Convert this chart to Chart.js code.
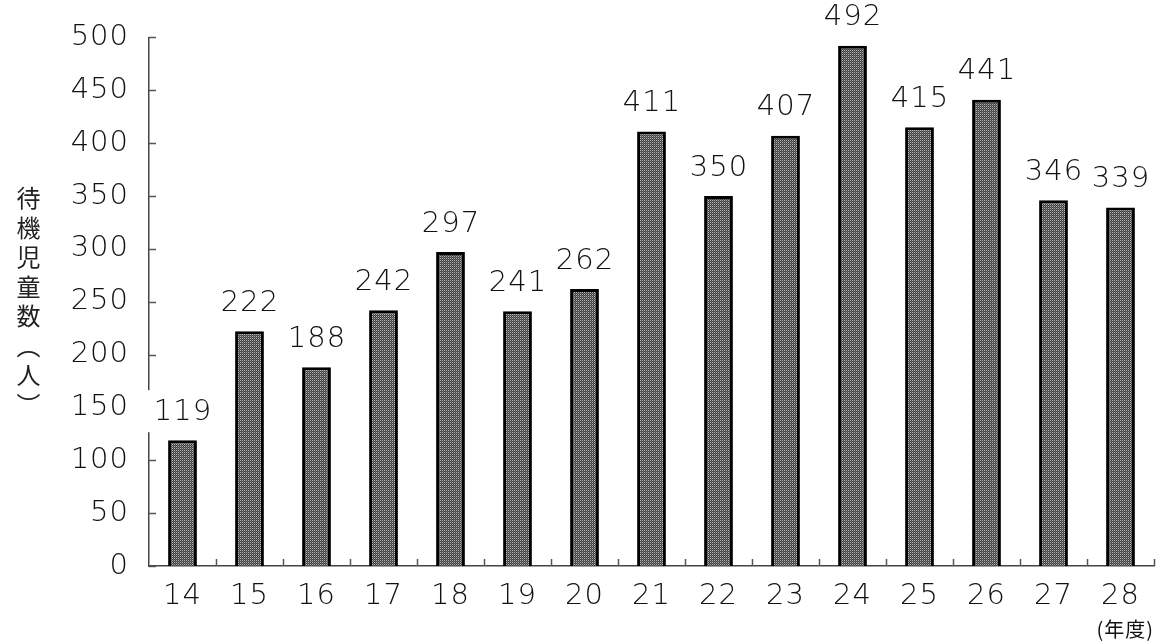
<!DOCTYPE html>
<html>
<head>
<meta charset="utf-8">
<script src="https://cdn.jsdelivr.net/npm/chart.js@4"></script>
<style>
  body { margin: 0; background: #fff; }
  #wrap { position: relative; width: 1164px; height: 644px; }
  #ytitle {
    position: absolute; left: 11px; top: 186px;
    writing-mode: vertical-rl;
    font-family: "Noto Sans CJK JP", sans-serif;
    font-size: 24px; letter-spacing: 5.5px; color: #222;
  }
</style>
</head>
<body>
<div id="wrap">
  <canvas id="wait-chart" width="1164" height="644"></canvas>
  <div id="ytitle">待機児童数（人）</div>
</div>
<script>
const years = ["14", "15", "16", "17", "18", "19", "20", "21", "22", "23", "24", "25", "26", "27", "28"];
const children = [119, 222, 188, 242, 297, 241, 262, 411, 350, 407, 492, 415, 441, 346, 339];
const yTicks = [0, 50, 100, 150, 200, 250, 300, 350, 400, 450, 500];

const numFont = '"DejaVu Sans", sans-serif';

// fine checkered fill like the original hatching
function makePattern() {
  const c = document.createElement('canvas');
  c.width = 2; c.height = 2;
  const g = c.getContext('2d');
  g.fillStyle = '#3e3e3e'; g.fillRect(0, 0, 2, 2);
  g.fillStyle = '#b8b8b8'; g.fillRect(0, 0, 1, 1);
  g.fillStyle = '#6a6a6a'; g.fillRect(1, 1, 1, 1);
  return g.createPattern(c, 'repeat');
}

const ctx = document.getElementById('wait-chart');

// a little extra digit spacing, the original font is broad
const spacing = {
  id: 'spacing',
  beforeDraw(chart) { chart.ctx.letterSpacing = '1px'; }
};

// inward tick marks on both axes
const innerTicks = {
  id: 'innerTicks',
  beforeDatasetsDraw(chart) {
    const c = chart.ctx, x = chart.scales.x, y = chart.scales.y;
    c.save();
    c.strokeStyle = '#555';
    c.lineWidth = 1.5;
    c.beginPath();
    yTicks.forEach(v => {
      const py = Math.round(y.getPixelForValue(v)) + 0.5;
      c.moveTo(x.left, py); c.lineTo(x.left + 7, py);
    });
    const step = x.width / years.length;
    for (let i = 1; i <= years.length; i++) {
      const px = Math.round(x.left + step * i) + 0.5;
      c.moveTo(px, y.bottom); c.lineTo(px, y.bottom - 7);
    }
    c.stroke();
    c.restore();
  }
};

// value labels above bars, on white boxes
const valueLabels = {
  id: 'valueLabels',
  afterDatasetsDraw(chart) {
    const c = chart.ctx;
    const meta = chart.getDatasetMeta(0);
    c.save();
    c.font = '200 29px ' + numFont;
    c.textAlign = 'center';
    c.textBaseline = 'middle';
    meta.data.forEach((bar, i) => {
      const txt = String(children[i]);
      const w = c.measureText(txt).width;
      const cy = bar.y - 28;
      c.fillStyle = '#fff';
      c.fillRect(bar.x - w / 2 - 6, cy - 22, w + 12, 42);
      c.fillStyle = '#111';
      c.fillText(txt, bar.x + 0.5, cy);
    });
    c.restore();
  }
};

const config = {
  type: 'bar',
  data: {
    labels: years,
    datasets: [{
      data: children,
      backgroundColor: makePattern(),
      borderColor: '#000',
      borderWidth: 3,
      barPercentage: 0.43,
      categoryPercentage: 1.0
    }]
  },
  options: {
    responsive: false,
    devicePixelRatio: 1,
    animation: false,
    layout: { padding: { top: 36, right: 10, left: 0, bottom: 0 } },
    plugins: { legend: false, tooltip: { enabled: false } },
    scales: {
      x: {
        grid: { display: false, drawTicks: false },
        border: { color: '#444', width: 1.5 },
        ticks: {
          color: '#111',
          padding: 13,
          font: { family: numFont, size: 29, weight: 200 }
        },
        title: {
          display: true,
          text: '(年度)',
          align: 'end',
          color: '#111',
          padding: { top: 0, bottom: 3 },
          font: { family: '"Noto Sans CJK JP", sans-serif', size: 20 }
        },
        afterFit: (s) => { s.height = 78; }
      },
      y: {
        min: 0,
        max: 500,
        grid: { display: false, drawTicks: false },
        border: { color: '#444', width: 1.5 },
        ticks: {
          stepSize: 50,
          color: '#111',
          padding: 20,
          font: { family: numFont, size: 29, weight: 200 }
        },
        afterFit: (s) => { s.width = 149; }
      }
    }
  },
  plugins: [spacing, innerTicks, valueLabels]
};

new Chart(ctx, config);
</script>
</body>
</html>
